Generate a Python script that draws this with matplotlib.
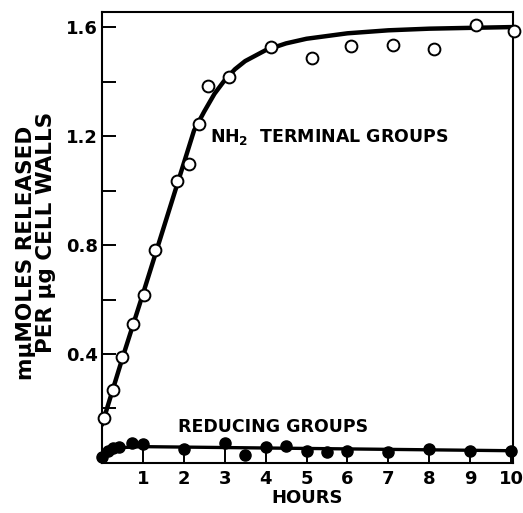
import matplotlib
matplotlib.use("Agg")
import matplotlib.pyplot as plt

plt.rcParams["font.family"] = ["DejaVu Sans"]
plt.rcParams["font.weight"] = "bold"
plt.rcParams["axes.labelweight"] = "bold"

# NH2 terminal groups (open circles)
nh2_hours = [0.05, 0.28, 0.48, 0.77, 1.03, 1.30, 1.84, 2.12, 2.37, 2.60, 3.10,
             4.12, 5.13, 6.10, 7.12, 8.12, 9.14, 10.07]
nh2_vals = [0.165, 0.268, 0.39, 0.51, 0.617, 0.782, 1.035, 1.097, 1.244, 1.383,
            1.418, 1.525, 1.485, 1.531, 1.534, 1.519, 1.607, 1.586]

# hand-drawn fitted curve through NH2 points
nh2_curve_hours = [0.0, 0.5, 1.0, 1.5, 2.0, 2.25, 2.5, 2.75, 3.0, 3.25, 3.5,
                   4.0, 4.5, 5.0, 6.0, 7.0, 8.0, 9.0, 10.07]
nh2_curve_vals = [0.14, 0.385, 0.62, 0.86, 1.10, 1.22, 1.29, 1.355, 1.405,
                  1.445, 1.475, 1.515, 1.54, 1.557, 1.577, 1.588, 1.594,
                  1.597, 1.60]

# reducing groups (filled circles)
red_hours = [0.0, 0.14, 0.28, 0.42, 0.74, 1.0, 2.0, 3.0, 3.5, 4.0, 4.5, 5.0,
             5.5, 6.0, 7.0, 8.0, 9.0, 10.0]
red_vals = [0.021, 0.045, 0.055, 0.06, 0.074, 0.07, 0.05, 0.072, 0.029, 0.058,
            0.062, 0.045, 0.041, 0.045, 0.041, 0.05, 0.045, 0.045]

red_curve_hours = [0.0, 0.15, 0.4, 1.0, 10.0]
red_curve_vals = [0.017, 0.042, 0.056, 0.06, 0.045]

x_ticks = [1, 2, 3, 4, 5, 6, 7, 8, 9, 10]
y_major = [0.4, 0.8, 1.2, 1.6]
y_minor = [0.2, 0.6, 1.0, 1.4]

fig = plt.figure(figsize=(5.23, 5.13), dpi=100)
ax = fig.add_axes([0.195, 0.0975, 0.786, 0.879])

ax.plot(nh2_curve_hours, nh2_curve_vals, color="black", linewidth=3.2,
        solid_capstyle="round", solid_joinstyle="round", zorder=2)
ax.plot(red_curve_hours, red_curve_vals, color="black", linewidth=2.4, zorder=2)
ax.plot(nh2_hours, nh2_vals, "o", markersize=8.5, markerfacecolor="white",
        markeredgecolor="black", markeredgewidth=1.4, clip_on=False, zorder=3)
ax.plot(red_hours, red_vals, "o", markersize=8, color="black",
        clip_on=False, zorder=3)

ax.set_xlim(0, 10.05)
ax.set_ylim(0, 1.655)
ax.set_xticks(x_ticks)
ax.set_xticklabels([str(t) for t in x_ticks])
ax.set_yticks(y_major)
ax.set_yticklabels([f"{v:.1f}" for v in y_major])
ax.set_yticks(y_minor, minor=True)
ax.tick_params(axis="both", which="both", direction="in", length=10,
               width=1.4, labelsize=13)
ax.tick_params(axis="x", pad=5)
ax.tick_params(axis="y", pad=3)
for s in ax.spines.values():
    s.set_linewidth(1.5)

ax.text(2.65, 1.196, "NH$_\\mathbf{2}$  TERMINAL GROUPS", fontsize=12.5,
        va="center")
ax.text(1.86, 0.132, "REDUCING GROUPS", fontsize=12.5, va="center")
ax.set_xlabel("HOURS", fontsize=13, labelpad=1)

fig.text(0.050, 0.507, "mμMOLES RELEASED", rotation=90, fontsize=15.5,
         ha="center", va="center")
fig.text(0.087, 0.548, "PER μg CELL WALLS", rotation=90, fontsize=15.5,
         ha="center", va="center")

fig.savefig("out.png", dpi=100)
